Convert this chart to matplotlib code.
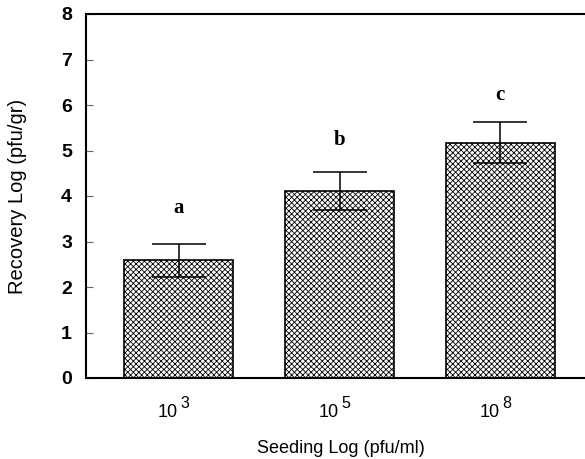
import matplotlib
matplotlib.use("Agg")
import matplotlib.pyplot as plt
import matplotlib.transforms as mtransforms
import numpy as np

exponents = ["3", "5", "8"]
values = [2.59, 4.11, 5.17]
err_low = [0.37, 0.41, 0.44]
err_high = [0.36, 0.41, 0.45]
letters = ["a", "b", "c"]
letter_y = [3.63, 5.12, 6.11]
yticks = [0, 1, 2, 3, 4, 5, 6, 7, 8]

plt.rcParams['font.family'] = ['Liberation Sans', 'DejaVu Sans']
plt.rcParams['hatch.color'] = '#444444'
plt.rcParams['hatch.linewidth'] = 0.6

fig = plt.figure(figsize=(5.85, 4.59), dpi=100)
ax = fig.add_axes([86/585, 81/459, 1 - 86/585 + 0.02, 364/459])

x = np.arange(len(exponents))
ax.bar(x, values, width=0.677, color='white', edgecolor='black', linewidth=1.2,
       hatch='xxxxxx', zorder=2)
ax.errorbar(x, values, yerr=[err_low, err_high], fmt='none', ecolor='black',
            elinewidth=1.1, capsize=19.5, capthick=1.1, zorder=3)
for xi, yi, t in zip(x, letter_y, letters):
    ax.text(xi, yi, t, ha='center', va='baseline', fontsize=15, fontweight='bold',
            family='Liberation Serif')

ax.set_xlim(-0.577, 2.6)
ax.set_ylim(0, 8)
ax.set_yticks(yticks)
ax.set_yticklabels([str(v) for v in yticks], fontsize=14, fontweight='bold')
ax.set_xticks(x)
ax.set_xticklabels([])
ax.tick_params(axis='x', length=0)
ax.tick_params(axis='y', direction='in', length=5, width=0.8, color='#666666', pad=10)

trans = ax.get_xaxis_transform()
for xi, e in zip(x, exponents):
    base = mtransforms.offset_copy(trans, fig=fig, x=-11, y=-39, units='dots')
    ax.text(xi, 0, "10", transform=base, ha='center', va='baseline', fontsize=13)
    sup = mtransforms.offset_copy(trans, fig=fig, x=6, y=-30, units='dots')
    ax.text(xi, 0, e, transform=sup, ha='center', va='baseline', fontsize=11.5)

for s in ['left', 'bottom', 'top']:
    ax.spines[s].set_linewidth(1.5)
ax.spines['right'].set_visible(False)
ax.set_xlabel("Seeding Log (pfu/ml)", fontsize=13, labelpad=41)
ax.set_ylabel("Recovery Log (pfu/gr)", fontsize=14.5, labelpad=25)

fig.savefig("out.png", dpi=100)
